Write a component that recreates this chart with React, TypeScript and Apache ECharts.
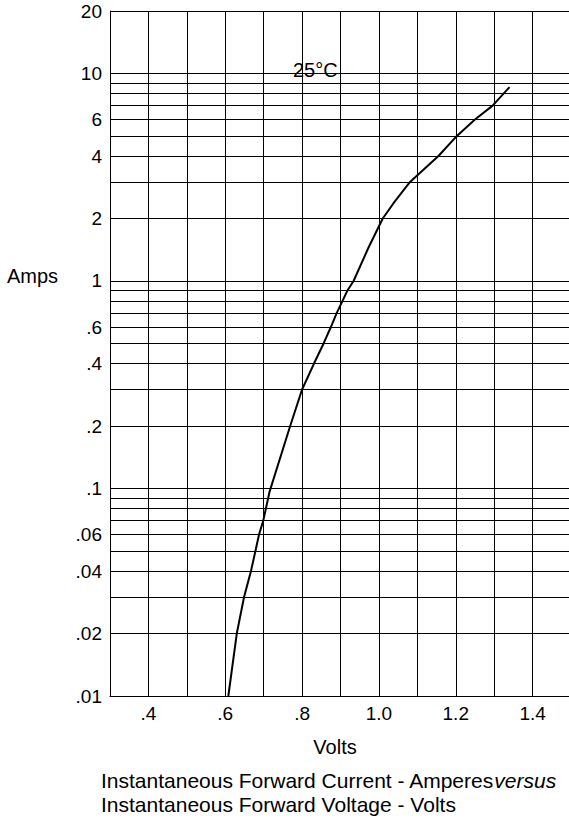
import React, { useEffect, useRef } from "react";
import * as echarts from "echarts";

// Curve: instantaneous forward voltage (V) vs forward current (A), 25°C
const curveVolts = [0.608, 0.63, 0.649, 0.667, 0.688, 0.699, 0.715, 0.769, 0.8, 0.831, 0.856, 0.875, 0.89, 0.905, 0.918, 0.934, 0.973, 1.01, 1.038, 1.081, 1.155, 1.203, 1.25, 1.296, 1.34];
const curveAmps = [0.01, 0.02, 0.03, 0.04, 0.06, 0.07, 0.096, 0.2, 0.3, 0.4, 0.5, 0.6, 0.7, 0.8, 0.9, 1.0, 1.45, 2.0, 2.37, 3.0, 4.0, 5.0, 6.0, 7.0, 8.6];

// Horizontal grid lines (log paper)
const gridCurrents = [
  0.01, 0.02, 0.03, 0.04, 0.05, 0.06, 0.07, 0.08, 0.09,
  0.1, 0.2, 0.3, 0.4, 0.5, 0.6, 0.7, 0.8, 0.9,
  1, 2, 3, 4, 5, 6, 7, 8, 9,
  10, 20,
];

// Y tick labels
const yTickValues = [20, 10, 6, 4, 2, 1, 0.6, 0.4, 0.2, 0.1, 0.06, 0.04, 0.02, 0.01];
const yTickLabels = ["20", "10", "6", "4", "2", "1", ".6", ".4", ".2", ".1", ".06", ".04", ".02", ".01"];

// X tick labels
const xTickValues = [0.4, 0.6, 0.8, 1.0, 1.2, 1.4];
const xTickLabels = [".4", ".6", ".8", "1.0", "1.2", "1.4"];

const FONT = "'Liberation Sans', Arial, Helvetica, sans-serif";

export default function App() {
  const ref = useRef<HTMLDivElement>(null);

  useEffect(() => {
    document.body.style.margin = "0";
    if (!ref.current) return;
    const chart = echarts.init(ref.current, undefined, { renderer: "svg" });

    const markData = gridCurrents.map((v) => {
      const idx = yTickValues.indexOf(v);
      return {
        yAxis: v,
        label:
          idx >= 0
            ? { show: true, formatter: yTickLabels[idx] }
            : { show: false },
      };
    });

    chart.setOption({
      animation: false,
      backgroundColor: "#ffffff",
      textStyle: { fontFamily: FONT },
      grid: {
        left: 110,
        top: 11,
        width: 461,
        height: 685,
        containLabel: false,
        outerBoundsMode: "none",
      },
      xAxis: {
        type: "value",
        min: 0.3,
        max: 1.5,
        interval: 0.1,
        axisLine: { show: true, lineStyle: { color: "#000", width: 1 } },
        axisTick: { show: false },
        splitLine: { show: true, lineStyle: { color: "#000", width: 1 } },
        axisLabel: {
          show: true,
          color: "#000",
          fontSize: 19,
          fontFamily: FONT,
          margin: 8,
          formatter: (v: number) => {
            const i = xTickValues.findIndex((t) => Math.abs(t - v) < 1e-6);
            return i >= 0 ? xTickLabels[i] : "";
          },
        },
      },
      yAxis: {
        type: "log",
        logBase: 10,
        min: 0.01,
        max: 20,
        axisLine: { show: true, onZero: false, lineStyle: { color: "#000", width: 1 } },
        axisTick: { show: false },
        axisLabel: { show: false },
        splitLine: { show: false },
        minorSplitLine: { show: false },
      },
      series: [
        {
          type: "line",
          data: curveVolts.map((v, i) => [v, curveAmps[i]]),
          showSymbol: false,
          symbol: "none",
          smooth: false,
          lineStyle: { color: "#000", width: 2 },
          silent: true,
          z: 5,
          markLine: {
            silent: true,
            symbol: ["none", "none"],
            animation: false,
            lineStyle: { color: "#000", width: 1, type: "solid" },
            emphasis: { disabled: true },
            label: {
              position: "start",
              distance: 8,
              color: "#000",
              fontSize: 19,
              fontFamily: FONT,
              padding: [0, 0, 5, 0],
            },
            data: markData,
          },
        },
      ],
      graphic: [
        {
          type: "text",
          x: 7,
          y: 276,
          style: { text: "Amps", fontSize: 20, fontFamily: FONT, fill: "#000", verticalAlign: "middle", align: "left" },
        },
        {
          type: "text",
          x: 293,
          y: 70,
          z: 10,
          style: { text: "25°C", fontSize: 20, fontFamily: FONT, fill: "#000", verticalAlign: "middle", align: "left" },
        },
        {
          type: "text",
          x: 335,
          y: 747,
          style: { text: "Volts", fontSize: 20, fontFamily: FONT, fill: "#000", verticalAlign: "middle", align: "center" },
        },
        {
          type: "text",
          x: 101,
          y: 780,
          style: {
            text: "{n|Instantaneous Forward Current - Amperes}{i|versus}",
            verticalAlign: "middle",
            align: "left",
            rich: {
              n: { fontSize: 21, fontFamily: FONT, fill: "#000" },
              i: { fontSize: 21, fontFamily: FONT, fontStyle: "italic", fill: "#000" },
            },
          },
        },
        {
          type: "text",
          x: 101,
          y: 804,
          style: { text: "Instantaneous Forward Voltage - Volts", fontSize: 21, fontFamily: FONT, fill: "#000", verticalAlign: "middle", align: "left" },
        },
      ],
    });

    return () => chart.dispose();
  }, []);

  return <div ref={ref} style={{ width: 569, height: 819 }} />;
}
